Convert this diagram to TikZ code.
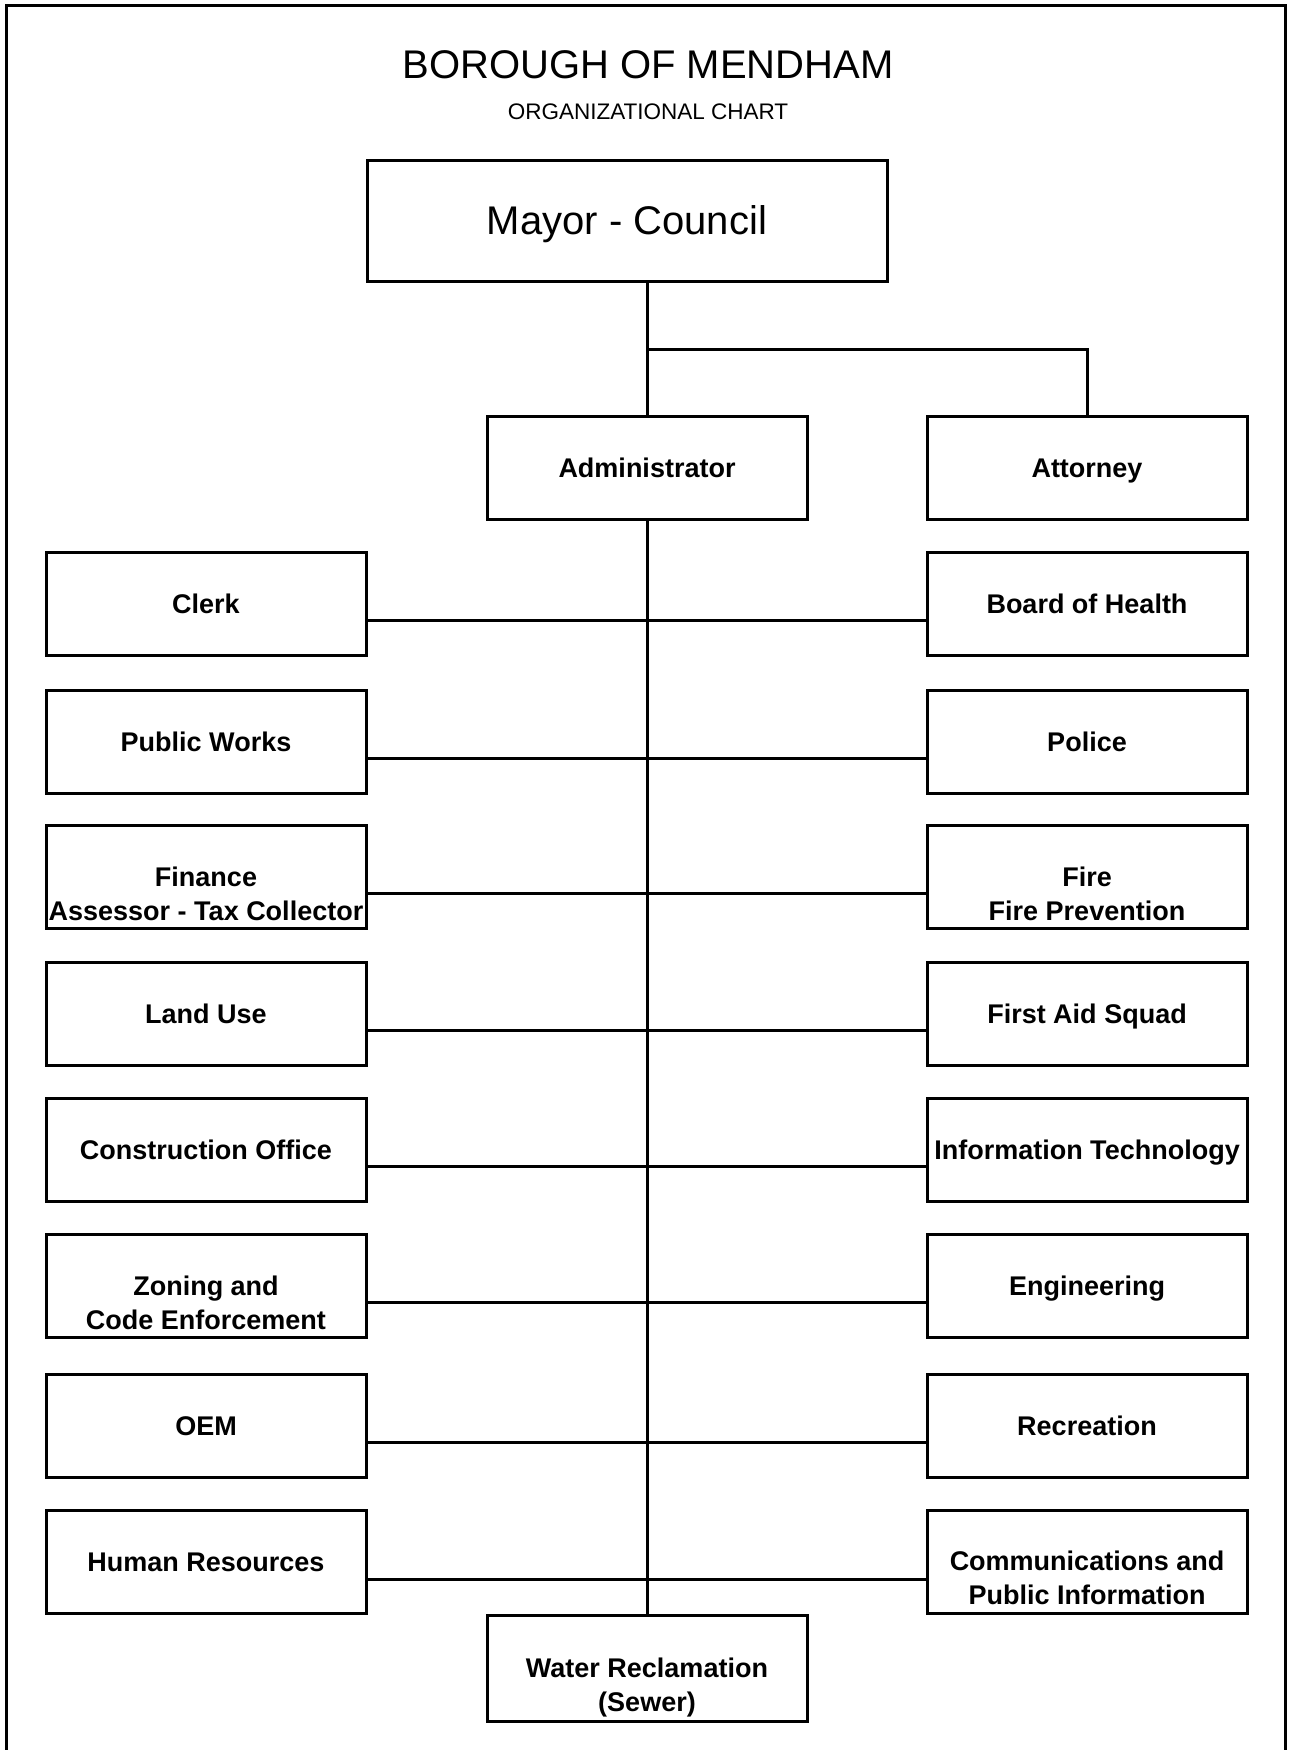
\documentclass[tikz,border=0pt]{standalone}
\usepackage{fontspec}
\setmainfont{Liberation Sans}

\newcommand\unitfont{\fontsize{27}{34}\selectfont\bfseries}

\tikzset{
    unitbox/.style={draw, line width=3pt, minimum width=320pt, minimum height=103pt,
        inner sep=0pt, align=center, font=\unitfont},
    unit/.style={unitbox, text height=19.3pt, text depth=0pt},
    unittwo/.style={unitbox, text height=#1},
    link/.style={line width=3pt}
}

\begin{document}
\begin{tikzpicture}[x=1pt, y=-1pt]
    \useasboundingbox (0,0) rectangle (1290,1750);
    \draw[line width=3pt] (6,1760) -- (6,6) -- (1285,6) -- (1285,1760);

    \node[anchor=base, font=\fontsize{40}{44}\selectfont] (title) at (648,79) {BOROUGH OF MENDHAM};
    \node[anchor=base, font=\fontsize{22.5}{26}\selectfont] (subtitle) at (648,120) {ORGANIZATIONAL CHART};

    \node[draw, line width=3pt, minimum width=520pt, minimum height=121pt, inner sep=0pt,
        font=\fontsize{40}{44}\selectfont, text height=28.6pt, text depth=0pt]
        (mayor) at (627,220.5) {Mayor - Council};

    \node[unit] (admin) at (647,467.5) {Administrator};
    \node[unit] (attorney) at (1087,467.5) {Attorney};

    % left column
    \node[unit] (clerk) at (206,603.5) {Clerk};
    \node[unit] (works) at (206,741.5) {Public Works};
    \node[unittwo=88.3pt] (finance) at (206,876.5) {Finance\\Assessor - Tax Collector};
    \node[unit] (landuse) at (206,1013.5) {Land Use};
    \node[unit] (construction) at (206,1149.5) {Construction Office};
    \node[unittwo=87.3pt] (zoning) at (206,1285.5) {Zoning and\\Code Enforcement};
    \node[unit] (oem) at (206,1425.5) {OEM};
    \node[unit] (hr) at (206,1562) {Human Resources};

    % right column
    \node[unit] (health) at (1087,603.5) {Board of Health};
    \node[unit] (police) at (1087,741.5) {Police};
    \node[unittwo=88.3pt] (fire) at (1087,876.5) {Fire\\Fire Prevention};
    \node[unit] (firstaid) at (1087,1013.5) {First Aid Squad};
    \node[unit] (it) at (1087,1149.5) {Information Technology};
    \node[unit] (engineering) at (1087,1285.5) {Engineering};
    \node[unit] (recreation) at (1087,1425.5) {Recreation};
    \node[unittwo=85.3pt] (comms) at (1087,1562) {Communications and\\Public Information};

    \node[unittwo=92pt, minimum height=106pt] (water) at (647,1668) {Water Reclamation\\(Sewer)};

    \coordinate (split) at (647,349);
    \draw[link] (mayor.south -| admin.north) -- (admin.north);
    \draw[link] (split) -| (attorney.north);
    \draw[link] (admin.south) -- (water.north);

    \foreach \a/\b in {clerk/health, works/police, finance/fire, landuse/firstaid,
        construction/it, zoning/engineering, oem/recreation, hr/comms}
    {
        \draw[link] ([yshift=-17pt]\a.east) -- ([yshift=-17pt]\b.west);
    }

\end{tikzpicture}
\end{document}
